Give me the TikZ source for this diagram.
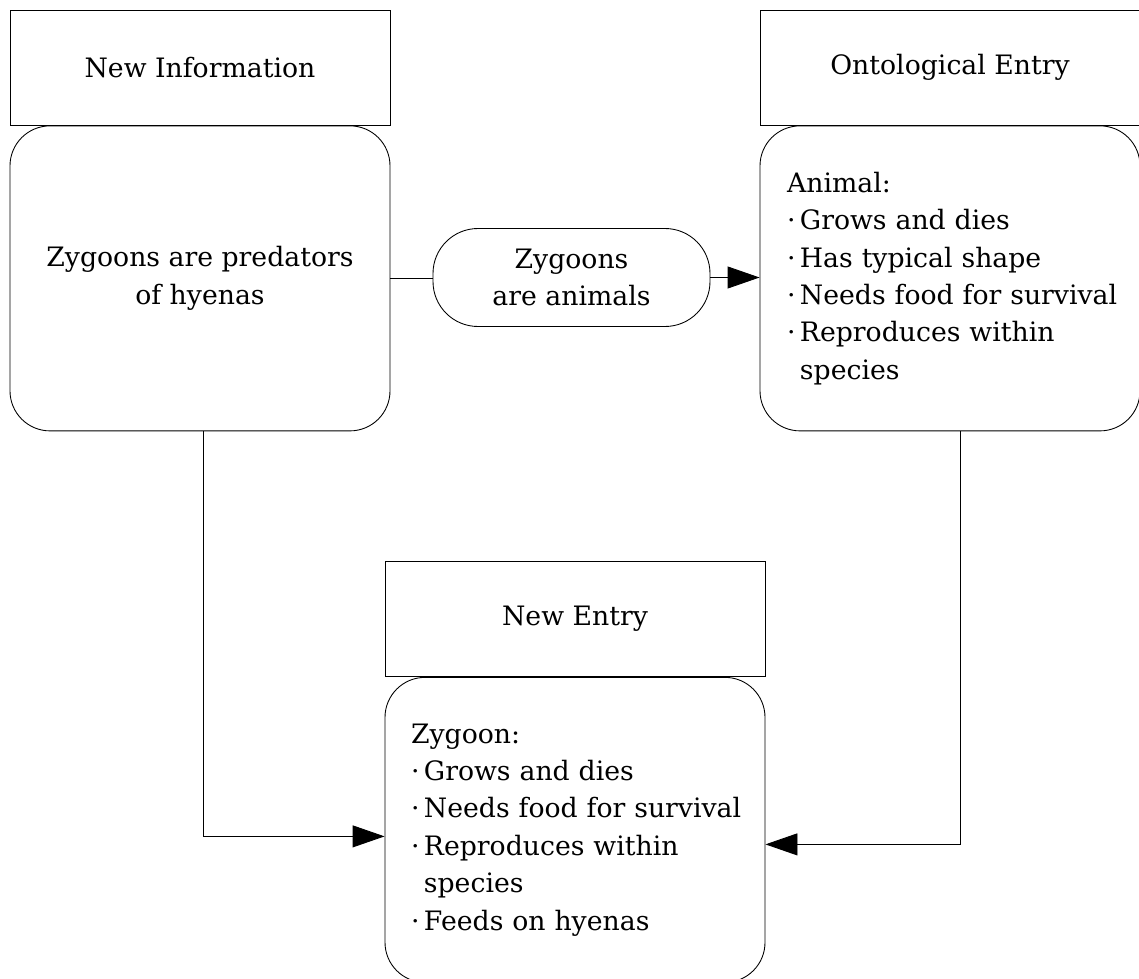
\documentclass[tikz,border=0pt]{standalone}
\usepackage{fontspec}
\setmainfont{DejaVu Serif}
\usetikzlibrary{positioning, arrows.meta}

\newcommand\dotline[1]{\mbox{·\,#1}}
\newcommand\contline[1]{\mbox{\phantom{·\,}#1}}

\tikzset{
	header/.style={draw, minimum width=7.6cm, minimum height=2.3cm, inner sep=0pt},
	roundbox/.style={draw, rounded corners=0.8cm, minimum width=7.6cm, minimum height=6.1cm},
	pill/.style={draw, rounded corners=0.9cm, minimum width=5.54cm, minimum height=1.96cm, align=center},
	flow/.style={-{Triangle[length=6.4mm, width=4.4mm]}},
}

\begin{document}
\begin{tikzpicture}[line width=0.5pt, font=\fontsize{15.2}{21.3}\selectfont]
		\useasboundingbox (0, 0) rectangle (22.78, -19.58);

		\node[header] (infohead) at (4, -1.35) {New Information};
		\node[roundbox, align=center, below=0pt of infohead] (infobox) {Zygoons are predators\\of hyenas};

		\node[header] (ontohead) at (19, -1.35) {Ontological Entry};
		\node[roundbox, below=0pt of ontohead, align=left, text width=6.52cm, inner xsep=0.54cm] (ontobox)
			{Animal:\\\dotline{Grows and dies}\\\dotline{Has typical shape}\\\dotline{Needs food for survival}\\\dotline{Reproduces within}\\\contline{species}};

		\node[pill] (fact) at (11.43, -5.55) {Zygoons\\are animals};

		\node[header] (entryhead) at (11.5, -12.38) {New Entry};
		\node[roundbox, below=0pt of entryhead, align=left, text width=6.56cm, inner xsep=0.52cm] (entrybox)
			{Zygoon:\\\dotline{Grows and dies}\\\dotline{Needs food for survival}\\\dotline{Reproduces within}\\\contline{species}\\\dotline{Feeds on hyenas}};

		\draw (infobox.east) -- (infobox.east -| fact.west);
		\draw[flow] (fact.east) -- (fact.east -| ontobox.west);
		\draw[flow] ([xshift=0.06cm]infobox.south) |- ([yshift=-0.13cm]entrybox.west);
		\draw[flow] ([xshift=0.2cm]ontobox.south) |- ([yshift=-0.29cm]entrybox.east);
	\end{tikzpicture}
\end{document}
